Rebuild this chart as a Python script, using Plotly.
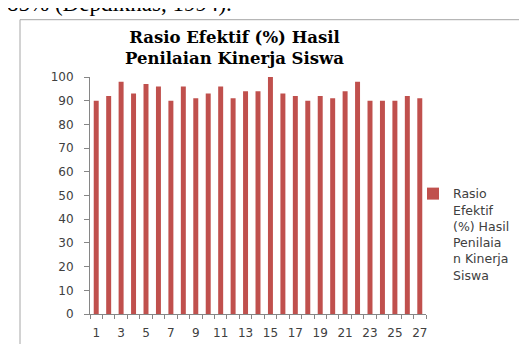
import plotly.graph_objects as go

# ---- data ----
students = list(range(1, 28))
rasio = [90, 92, 98, 93, 97, 96, 90, 96, 91, 93, 96, 91, 94, 94, 100,
         93, 92, 90, 92, 91, 94, 98, 90, 90, 90, 92, 91]
x_tick_vals = list(range(1, 28, 2))
x_tick_text = [str(v) for v in x_tick_vals]
y_tick_vals = list(range(0, 101, 10))
series_name = "Rasio<br>Efektif<br>(%) Hasil<br>Penilaia<br>n Kinerja<br>Siswa"
title_lines = ["Rasio Efektif (%) Hasil", "Penilaian Kinerja Siswa"]
doc_text = "85% (Depdiknas, 1994)."

# ---- geometry helpers ----
W, H = 527, 344
L, R, T, B = 82, 418, 69, 313


def px_x(x):
    return (x - L) / (R - L)


def px_y(y):
    return (B - y) / (B - T)


AXIS = "#868686"
TXT = "#404040"
SANS = "DejaVu Sans"

fig = go.Figure()
fig.add_trace(go.Bar(
    x=students, y=rasio, name=series_name,
    marker=dict(color="#C0504D", line=dict(width=0)),
    showlegend=True,
))

fig.update_layout(
    width=W, height=H,
    margin=dict(l=L, r=W - R, t=T, b=H - B, pad=0),
    paper_bgcolor="white", plot_bgcolor="white",
    bargap=0.6,
    showlegend=True,
    legend=dict(
        x=px_x(405), y=px_y(174), xanchor="left", yanchor="top",
        font=dict(family=SANS, size=12.5, color=TXT),
        valign="top", bgcolor="rgba(0,0,0,0)", borderwidth=0,
        itemclick=False,
    ),
    xaxis=dict(
        range=[0.5, 27.5], tickmode="array", tickvals=x_tick_vals, ticktext=x_tick_text,
        ticks="", showline=True, linecolor=AXIS, linewidth=1,
        showgrid=False, zeroline=False,
        tickfont=dict(family=SANS, size=12, color=TXT),
        ticklabelstandoff=8,
        minor=dict(tickmode="array", tickvals=[v + 0.5 for v in range(0, 28)],
                   ticks="outside", ticklen=4, tickcolor=AXIS, showgrid=False),
    ),
    yaxis=dict(
        range=[0, 100], tickmode="array", tickvals=y_tick_vals,
        ticks="outside", ticklen=5, tickcolor=AXIS,
        showline=True, linecolor=AXIS, linewidth=1,
        showgrid=False, zeroline=False,
        tickfont=dict(family=SANS, size=12, color=TXT),
        ticklabelstandoff=8,
    ),
    shapes=[dict(
        type="rect", xref="paper", yref="paper",
        x0=px_x(12), x1=px_x(560), y0=px_y(10), y1=px_y(380),
        line=dict(color="#A6A6A6", width=1), fillcolor="rgba(0,0,0,0)",
        layer="below",
    )],
    annotations=[
        dict(text="<b>%s<br>%s</b>" % (title_lines[0], title_lines[1]),
             xref="paper", yref="paper",
             x=px_x(226), y=px_y(39), xanchor="center", yanchor="middle",
             showarrow=False, font=dict(family="DejaVu Serif", size=16.5, color="black")),
        dict(text=doc_text, xref="paper", yref="paper",
             x=px_x(-3), y=px_y(-7), xanchor="left", yanchor="middle",
             showarrow=False, font=dict(family="Liberation Serif", size=23, color="black")),
    ],
)

fig.write_html("out.html")
